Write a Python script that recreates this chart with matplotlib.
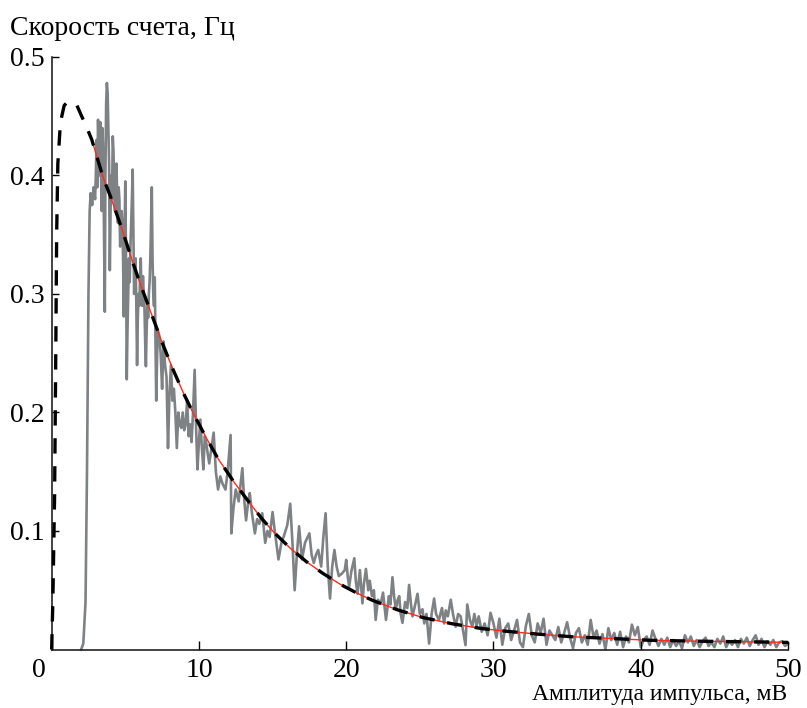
import numpy as np
import matplotlib
matplotlib.use("Agg")
import matplotlib.pyplot as plt
import matplotlib.transforms as mtransforms

grey = [
    (2.0, 0.0), (2.15, 0.005), (2.3, 0.04), (2.4, 0.15), (2.5, 0.30), (2.58, 0.37),
    (2.65, 0.385), (2.75, 0.375), (2.85, 0.39), (2.95, 0.38),
    (3.0, 0.40), (3.05, 0.43), (3.1, 0.39), (3.15, 0.447), (3.2, 0.42), (3.25, 0.40),
    (3.3, 0.445), (3.35, 0.41), (3.4, 0.37), (3.45, 0.44), (3.5, 0.42), (3.55, 0.36),
    (3.61, 0.285), (3.65, 0.40), (3.7, 0.46), (3.75, 0.478), (3.8, 0.47), (3.85, 0.44),
    (3.9, 0.41), (3.95, 0.32), (4.0, 0.37), (4.05, 0.40), (4.1, 0.38), (4.15, 0.433),
    (4.2, 0.42), (4.25, 0.39), (4.3, 0.37), (4.35, 0.40), (4.4, 0.41), (4.45, 0.38),
    (4.5, 0.36), (4.55, 0.39), (4.6, 0.38), (4.65, 0.34), (4.7, 0.35), (4.75, 0.37),
    (4.8, 0.36), (4.85, 0.33), (4.9, 0.281), (4.95, 0.35), (5.0, 0.395), (5.05, 0.33),
    (5.1, 0.228), (5.15, 0.27), (5.2, 0.30), (5.25, 0.33), (5.3, 0.31), (5.35, 0.34),
    (5.4, 0.36), (5.45, 0.38), (5.5, 0.405), (5.55, 0.35), (5.6, 0.30), (5.65, 0.32),
    (5.7, 0.33), (5.75, 0.29), (5.8, 0.24), (5.85, 0.28), (5.9, 0.30), (5.95, 0.29),
    (6.0, 0.312), (6.05, 0.33), (6.1, 0.30), (6.15, 0.29), (6.2, 0.315), (6.25, 0.30),
    (6.3, 0.29), (6.35, 0.26), (6.4, 0.239), (6.45, 0.27), (6.5, 0.29), (6.55, 0.28),
    (6.6, 0.30), (6.65, 0.31), (6.7, 0.33), (6.75, 0.36), (6.8, 0.39), (6.85, 0.33),
    (6.9, 0.30), (6.95, 0.29), (7.0, 0.314),
    (7.1, 0.21), (7.2, 0.27), (7.3, 0.265), (7.4, 0.25), (7.5, 0.22), (7.6, 0.26),
    (7.7, 0.24), (7.8, 0.23), (7.9, 0.17), (8.0, 0.216), (8.1, 0.24), (8.2, 0.21),
    (8.3, 0.22), (8.4, 0.20), (8.5, 0.17), (8.6, 0.20), (8.7, 0.19), (8.8, 0.187),
    (8.9, 0.20), (9.0, 0.185), (9.1, 0.19), (9.2, 0.21), (9.3, 0.18), (9.4, 0.19),
    (9.5, 0.175), (9.6, 0.20), (9.71, 0.236), (9.8, 0.19), (9.9, 0.152), (10.0, 0.175),
    (10.1, 0.194), (10.2, 0.17), (10.3, 0.152), (10.4, 0.18), (10.5, 0.174), (10.6, 0.165),
    (10.7, 0.157), (10.85, 0.17), (11.0, 0.183), (11.15, 0.15), (11.3, 0.135), (11.45, 0.146),
    (11.6, 0.14), (11.8, 0.135), (11.95, 0.15), (12.15, 0.181), (12.2, 0.098), (12.35, 0.12),
    (12.5, 0.135), (12.7, 0.125), (12.95, 0.153), (13.05, 0.13), (13.2, 0.109), (13.35, 0.125),
    (13.45, 0.132), (13.6, 0.115), (13.8, 0.098), (13.95, 0.11), (14.1, 0.106), (14.3, 0.115),
    (14.5, 0.09), (14.65, 0.10), (14.8, 0.095), (15.0, 0.116), (15.15, 0.10), (15.4, 0.076),
    (15.6, 0.09), (15.75, 0.095), (16.0, 0.105), (16.2, 0.123), (16.35, 0.09), (16.5, 0.05),
    (16.65, 0.08), (16.8, 0.104), (17.0, 0.076), (17.2, 0.09), (17.5, 0.098), (17.65, 0.08),
    (17.8, 0.073), (17.95, 0.08), (18.1, 0.084), (18.3, 0.07), (18.45, 0.095), (18.6, 0.115),
    (18.75, 0.07), (18.9, 0.043), (19.05, 0.07), (19.2, 0.084), (19.35, 0.07), (19.5, 0.062),
    (19.7, 0.064), (19.9, 0.067), (20.0, 0.0756), (20.1, 0.062), (20.2, 0.053), (20.35, 0.066),
    (20.55, 0.077), (20.65, 0.058), (20.77, 0.047), (20.93, 0.067), (21.1, 0.039), (21.2, 0.055),
    (21.34, 0.068), (21.5, 0.05), (21.6, 0.058), (21.75, 0.045), (21.88, 0.05), (22.0, 0.025),
    (22.15, 0.042), (22.35, 0.039), (22.5, 0.048), (22.7, 0.025), (22.9, 0.045), (23.0, 0.038),
    (23.14, 0.061), (23.25, 0.045), (23.37, 0.034), (23.5, 0.042), (23.6, 0.045), (23.7, 0.03),
    (23.82, 0.0225), (24.0, 0.04), (24.15, 0.035), (24.27, 0.0545), (24.4, 0.038), (24.5, 0.028),
    (24.65, 0.036), (24.84, 0.047), (25.0, 0.03), (25.18, 0.034), (25.3, 0.022), (25.45, 0.03),
    (25.63, 0.005), (25.8, 0.03), (25.97, 0.043), (26.1, 0.03), (26.3, 0.025), (26.5, 0.035),
    (26.65, 0.022), (26.76, 0.033), (26.9, 0.028), (27.1, 0.042), (27.25, 0.03), (27.43, 0.0193),
    (27.6, 0.03), (27.77, 0.028), (27.95, 0.015), (28.1, 0.0037), (28.22, 0.038), (28.4, 0.025),
    (28.56, 0.0193), (28.7, 0.03), (28.85, 0.02), (29.0, 0.028), (29.2, 0.015), (29.4, 0.022),
    (29.6, 0.012), (29.8, 0.031),
    (30.0, 0.022), (30.2, 0.010), (30.4, 0.026), (30.6, 0.004), (30.8, 0.018), (31.0, 0.022),
    (31.2, 0.008), (31.4, 0.016), (31.6, 0.025), (31.8, 0.006), (32.0, 0.002), (32.2, 0.020),
    (32.4, 0.030), (32.6, 0.012), (32.8, 0.006), (33.0, 0.022), (33.2, 0.014), (33.4, 0.026),
    (33.6, 0.004), (33.8, 0.016), (34.0, 0.012), (34.2, 0.008), (34.4, 0.019), (34.6, 0.006),
    (34.8, 0.014), (35.0, 0.023), (35.2, 0.010), (35.4, 0.001), (35.6, 0.014), (35.8, 0.018),
    (36.0, 0.006), (36.2, 0.012), (36.4, 0.004), (36.6, 0.025), (36.8, 0.010), (37.0, 0.016),
    (37.2, 0.005), (37.4, 0.013), (37.6, 0.000), (37.8, 0.018), (38.0, 0.008), (38.2, 0.014),
    (38.4, 0.004), (38.6, 0.015), (38.8, 0.002), (39.0, 0.011), (39.2, 0.006), (39.4, 0.021),
    (39.6, 0.012), (39.8, 0.019), (40.0, 0.002), (40.2, 0.008), (40.4, 0.011), (40.6, 0.004),
    (40.8, 0.016), (41.0, 0.009), (41.2, 0.003), (41.4, 0.009), (41.6, 0.004), (41.8, 0.010),
    (42.0, 0.002), (42.2, 0.008), (42.4, 0.003), (42.6, 0.007), (42.8, 0.001), (43.0, 0.012),
    (43.2, 0.006), (43.4, 0.011), (43.6, 0.003), (43.8, 0.008), (44.0, 0.002), (44.2, 0.007),
    (44.4, 0.010), (44.6, 0.003), (44.8, 0.006), (45.0, 0.002), (45.2, 0.009), (45.4, 0.005),
    (45.6, 0.011), (45.8, 0.002), (46.0, 0.007), (46.2, 0.004), (46.4, 0.008), (46.6, 0.002),
    (46.8, 0.009), (47.0, 0.005), (47.2, 0.010), (47.4, 0.003), (47.6, 0.008), (47.8, 0.012),
    (48.0, 0.004), (48.2, 0.009), (48.4, 0.002), (48.6, 0.007), (48.8, 0.004), (49.0, 0.008),
    (49.2, 0.002), (49.4, 0.006), (49.6, 0.007), (49.8, 0.003), (50.0, 0.005),
]

# model curve (dashed)
model = [
    (0.0, 0.0), (0.08, 0.04), (0.2, 0.13), (0.28, 0.25), (0.34, 0.35), (0.42, 0.41),
    (0.6, 0.445), (0.85, 0.459), (1.0, 0.461), (1.65, 0.461), (2.0, 0.451), (2.4, 0.440),
    (2.73, 0.430), (3.5, 0.398), (4.0, 0.382), (4.74, 0.356), (5.5, 0.327), (6.0, 0.309),
    (6.75, 0.284), (7.5, 0.259), (8.25, 0.236), (9.0, 0.215), (9.71, 0.197), (10.5, 0.1785),
    (11.3, 0.161), (12.42, 0.1406), (13.5, 0.1227), (14.3, 0.110), (15.13, 0.0984), (16.2, 0.0855),
    (17.3, 0.0741), (18.4, 0.0644), (19.6, 0.055), (20.7, 0.0478), (21.8, 0.0414), (23.5, 0.0334),
    (25.2, 0.027), (27.2, 0.0217), (29.2, 0.0177), (30.8, 0.0155), (33.0, 0.013), (35.3, 0.0108),
    (38.7, 0.0089), (40.6, 0.0078), (44.0, 0.0070), (48.5, 0.0063), (50.0, 0.006),
]

# fit (thin red)
fit = [
    (2.73, 0.430), (3.5, 0.398), (4.0, 0.382), (4.74, 0.356), (5.5, 0.327), (6.0, 0.309),
    (6.75, 0.284), (7.5, 0.259), (8.25, 0.236), (9.0, 0.215), (9.71, 0.197), (10.5, 0.1785),
    (11.3, 0.161), (12.42, 0.1406), (13.5, 0.1227), (14.3, 0.110), (15.13, 0.0984), (16.2, 0.0855),
    (17.3, 0.0741), (18.4, 0.0644), (19.6, 0.055), (20.7, 0.0478), (21.8, 0.0414), (23.5, 0.0334),
    (25.2, 0.027), (27.2, 0.0217), (29.2, 0.0177), (30.8, 0.0155), (33.0, 0.013), (35.3, 0.0108),
    (38.7, 0.0089), (40.6, 0.0078), (44.0, 0.0070), (48.5, 0.0063), (50.0, 0.006),
]

xticks = [0, 10, 20, 30, 40, 50]
yticks = [0.1, 0.2, 0.3, 0.4, 0.5]
xlabel = "Амплитуда импульса, мВ"
ylabel = "Скорость счета, Гц"

plt.rcParams["font.family"] = ["Liberation Serif", "DejaVu Serif"]
FS = 20

fig = plt.figure(figsize=(8.07, 7.08), dpi=100)
ax = fig.add_axes([0.064, 0.0826, 0.9125, 0.837])

gx, gy = zip(*grey)
ax.plot(gx, gy, color="#7f8285", lw=1.9, zorder=1, clip_on=False)
fx, fy = zip(*fit)
ax.plot(fx, fy, color="#ff2a1a", lw=1.0, zorder=2)
mx, my = zip(*model)
ax.plot(mx, my, color="black", lw=2.4, ls=(0, (4.6, 3.8)), zorder=3, clip_on=False)

ax.set_xlim(0, 50)
ax.set_ylim(0, 0.5)
for s in ["top", "right"]:
    ax.spines[s].set_visible(False)
for s in ["left", "bottom"]:
    ax.spines[s].set_linewidth(1.2)
    ax.spines[s].set_color("#222222")

ax.set_xticks(xticks)
ax.set_xticklabels([str(t) for t in xticks])
ax.set_yticks(yticks)
ax.set_yticklabels([f"{t:.1f}" for t in yticks])
ax.tick_params(axis="x", direction="in", length=6.5, width=1, pad=6, labelsize=FS)
ax.tick_params(axis="y", direction="in", length=5, width=1, pad=5, labelsize=FS)

# the "0" label sits left of the corner
lab0 = ax.get_xticklabels()[0]
lab0.set_transform(lab0.get_transform() + mtransforms.ScaledTranslation(-0.13, 0, fig.dpi_scale_trans))

fig.text(10 / 807, 1 - 35 / 708, ylabel, fontsize=FS, ha="left", va="baseline")
fig.text(787 / 807, 1 - 700 / 708, xlabel, fontsize=17, ha="right", va="baseline")

fig.savefig("out.png", dpi=100)
